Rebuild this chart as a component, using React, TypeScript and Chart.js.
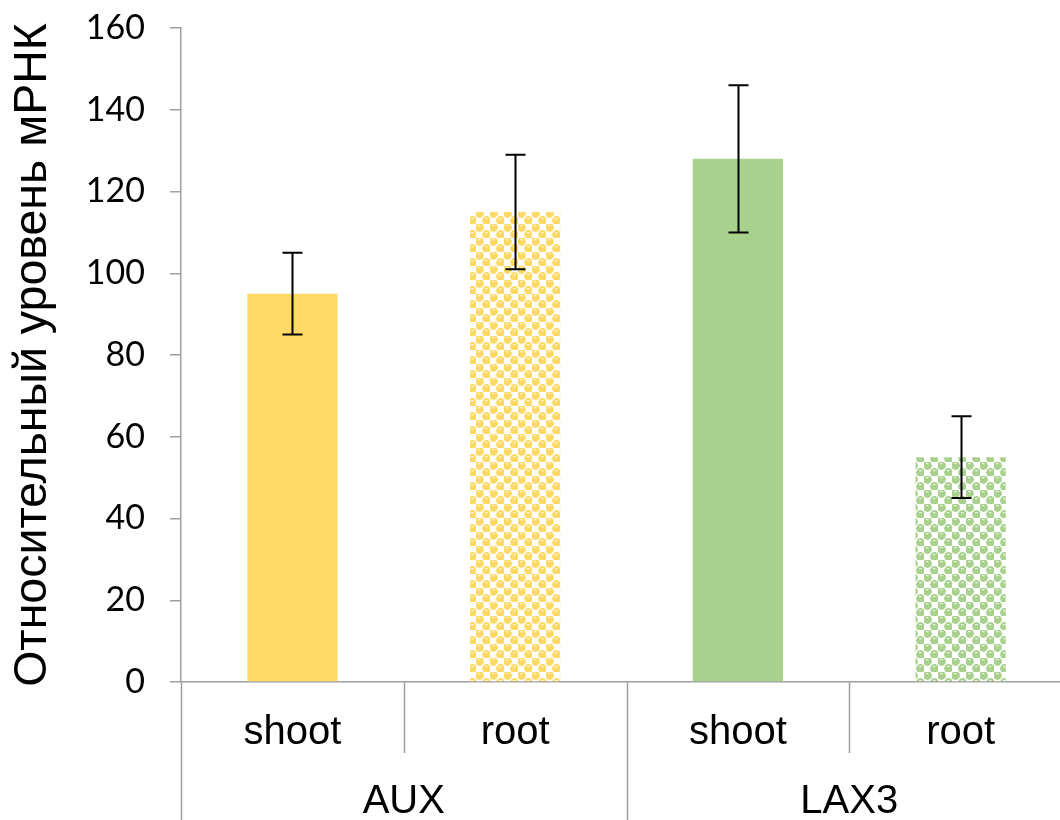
import React, { useEffect, useRef } from "react";
import { Chart, registerables } from "chart.js";

Chart.register(...registerables);

const categories = ["shoot", "root", "shoot", "root"];
const groups = ["AUX", "LAX3"];
const values = [95, 115, 128, 55];
const errLow = [85, 101, 110, 45];
const errHigh = [105, 129, 146, 65];
const yTicks = [0, 20, 40, 60, 80, 100, 120, 140, 160];

const YELLOW = "#FFD966";
const GREEN = "#A9D18E";

function makePattern(color: string): CanvasPattern | string {
  const s = 14;
  const c = document.createElement("canvas");
  c.width = s;
  c.height = s;
  const ctx = c.getContext("2d");
  if (!ctx) return color;
  ctx.fillStyle = "#ffffff";
  ctx.fillRect(0, 0, s, s);
  ctx.fillStyle = color;
  const centers = [
    [3.5, 3.5],
    [10.5, 10.5],
  ];
  for (const [x, y] of centers) {
    ctx.beginPath();
    ctx.arc(x, y, 4.4, 0, Math.PI * 2);
    ctx.fill();
  }
  ctx.fillStyle = "rgba(255,255,255,0.75)";
  for (const [x, y] of centers) {
    ctx.fillRect(x - 1.5, y - 2.5, 2.5, 1.2);
  }
  const p = ctx.createPattern(c, "repeat");
  return p || color;
}

const errorBarPlugin = {
  id: "errorBars",
  afterDatasetsDraw(chart: any) {
    const ctx = chart.ctx;
    const meta = chart.getDatasetMeta(0);
    const y = chart.scales.y;
    ctx.save();
    ctx.strokeStyle = "#000000";
    ctx.lineWidth = 2;
    meta.data.forEach((bar: any, i: number) => {
      const x = Math.round(bar.x) + 0.5;
      const yl = y.getPixelForValue(errLow[i]);
      const yh = y.getPixelForValue(errHigh[i]);
      ctx.beginPath();
      ctx.moveTo(x, yl);
      ctx.lineTo(x, yh);
      ctx.moveTo(x - 10, yl);
      ctx.lineTo(x + 10, yl);
      ctx.moveTo(x - 10, yh);
      ctx.lineTo(x + 10, yh);
      ctx.stroke();
    });
    ctx.restore();
  },
};

const groupAxisPlugin = {
  id: "groupAxis",
  afterDraw(chart: any) {
    const ctx = chart.ctx;
    const x = chart.scales.x;
    const area = chart.chartArea;
    const H = chart.height;
    const n = categories.length;
    const bound = (k: number) => {
      if (k <= 0) return area.left;
      if (k >= n) return area.right;
      return (x.getPixelForValue(k - 1) + x.getPixelForValue(k)) / 2;
    };
    ctx.save();
    ctx.strokeStyle = "#a0a0a0";
    ctx.lineWidth = 1.5;
    ctx.beginPath();
    [1, 3].forEach((k) => {
      const bx = Math.round(bound(k)) + 0.5;
      ctx.moveTo(bx, area.bottom);
      ctx.lineTo(bx, area.bottom + 71);
    });
    [0, 2].forEach((k) => {
      const bx = Math.round(bound(k)) + 0.5;
      ctx.moveTo(bx, area.bottom);
      ctx.lineTo(bx, H);
    });
    ctx.stroke();
    ctx.fillStyle = "#000000";
    ctx.font = '40px "Liberation Sans", Arial, sans-serif';
    ctx.textAlign = "center";
    ctx.textBaseline = "middle";
    groups.forEach((g, gi) => {
      const cx = (bound(gi * 2) + bound(gi * 2 + 2)) / 2;
      ctx.fillText(g, cx, area.bottom + 120);
    });
    ctx.restore();
  },
};

export default function App() {
  const ref = useRef<HTMLCanvasElement>(null);
  useEffect(() => {
    if (!ref.current) return;
    const bg = [YELLOW, makePattern(YELLOW), GREEN, makePattern(GREEN)];
    const chart = new Chart(ref.current, {
      type: "bar",
      data: {
        labels: categories,
        datasets: [
          {
            data: values,
            backgroundColor: bg as any,
            borderWidth: 0,
            barPercentage: 0.405,
            categoryPercentage: 1,
          },
        ],
      },
      options: {
        animation: false,
        responsive: false,
        maintainAspectRatio: false,
        layout: { padding: { top: 28, right: 0, bottom: 0, left: 0 } },
        plugins: {
          legend: { display: false },
          tooltip: { enabled: false },
        },
        scales: {
          x: {
            type: "category",
            grid: { display: false, drawTicks: false },
            border: { display: true, color: "#a0a0a0", width: 1.5 },
            ticks: {
              color: "#000000",
              padding: 27,
              font: { family: '"Liberation Sans", Arial, sans-serif', size: 40 },
            },
            afterFit: (s: any) => {
              s.height = 138;
              s.paddingLeft = 0;
              s.paddingRight = 0;
            },
          },
          y: {
            min: 0,
            max: 160,
            afterBuildTicks: (s: any) => {
              s.ticks = yTicks.map((v) => ({ value: v }));
            },
            grid: {
              display: true,
              drawOnChartArea: false,
              drawTicks: true,
              tickLength: 11,
              color: "#a0a0a0",
              lineWidth: 1.5,
            },
            border: { display: true, color: "#a0a0a0", width: 1.5 },
            ticks: {
              color: "#000000",
              padding: 25,
              font: { family: "Lato, sans-serif", size: 34 },
            },
            title: {
              display: true,
              text: "Относительный уровень мРНК",
              color: "#000000",
              padding: { top: 5, bottom: 0 },
              font: { family: '"Liberation Sans", Arial, sans-serif', size: 46.5 },
            },
            afterFit: (s: any) => {
              s.width = 181;
              s.paddingTop = 0;
              s.paddingBottom = 0;
            },
          },
        },
      },
      plugins: [errorBarPlugin, groupAxisPlugin],
    });
    return () => chart.destroy();
  }, []);
  return (
    <div style={{ position: "fixed", left: 0, top: 0, width: 1060, height: 820, background: "#fff", overflow: "hidden" }}>
      <canvas ref={ref} width={1072} height={820} style={{ width: 1072, height: 820, display: "block" }} />
    </div>
  );
}
